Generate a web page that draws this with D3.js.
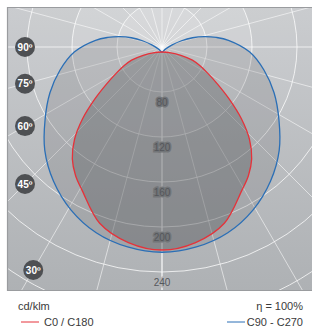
<!DOCTYPE html>
<html>
<head>
<meta charset="utf-8">
<script src="https://cdn.jsdelivr.net/npm/d3@7/dist/d3.min.js"></script>
<style>
  body { margin: 0; background: #fff; }
  svg { display: block; font-family: "Liberation Sans", Arial, sans-serif; }
</style>
</head>
<body>
<svg id="chart" width="312" height="329"></svg>
<script>
// gamma in degrees, 0 = straight down, values in cd/klm
const gammaRed = [0, 10, 20, 30, 35, 40, 45, 50, 55, 60, 65, 70, 75, 80, 85, 90];
const c0c180 = [176, 172, 162, 142, 134, 124, 110, 92, 73, 57, 45, 36, 28, 17, 8, 0];
const gammaBlue = [0, 10, 20, 30, 40, 50, 60, 70, 80, 90, 100, 105, 110, 115, 120, 125, 130, 135];
const c90c270 = [178, 176, 171, 162, 150, 136, 120, 106, 92, 78, 60, 50, 40, 30, 20, 11, 4, 0];
const ringValues = [40, 80, 120, 160, 200, 240];
const ringLabels = [80, 120, 160, 200, 240];
const angleLabels = [90, 75, 60, 45, 30];

const svg = d3.select('#chart');
const plot = { left: 7, top: 7, right: 312, bottom: 291 };
const cx = 162, gridCy = 47, curveCy = 52;

const rScale = d3.scaleLinear().domain([0, 200]).range([0, 225]);
const rad = d => d * Math.PI / 180;

const defs = svg.append('defs');
defs.append('clipPath').attr('id', 'plotClip')
    .append('rect')
    .attr('x', plot.left).attr('y', plot.top)
    .attr('width', plot.right - plot.left).attr('height', plot.bottom - plot.top);

let grad = defs.append('linearGradient').attr('id', 'bg')
    .attr('x1', 0).attr('y1', 0).attr('x2', 0).attr('y2', 1);
grad.append('stop').attr('offset', '0%').attr('stop-color', '#cacccf');
grad.append('stop').attr('offset', '100%').attr('stop-color', '#aeb1b4');

const g = svg.append('g').attr('clip-path', 'url(#plotClip)');

g.append('rect')
    .attr('x', plot.left).attr('y', plot.top)
    .attr('width', plot.right - plot.left).attr('height', plot.bottom - plot.top)
    .attr('fill', 'url(#bg)');

// lighter discs around the centre
const grid = g.append('g').attr('transform', 'translate(' + cx + ',' + gridCy + ')');
grid.selectAll('.disc')
    .data([120, 80, 40])
    .enter().append('circle')
    .attr('class', 'disc')
    .attr('r', d => rScale(d))
    .attr('fill', '#fff')
    .attr('fill-opacity', d => d === 120 ? 0.04 : 0.13);

// curves, polar around the light source
const curves = g.append('g').attr('transform', 'translate(' + cx + ',' + curveCy + ')');

function outline(gammas, values) {
    let pts = [];
    gammas.forEach((gm, i) => pts.push({ a: Math.PI - rad(gm), v: values[i] }));
    for (let i = gammas.length - 2; i > 0; i--) {
        pts.push({ a: Math.PI + rad(gammas[i]), v: values[i] });
    }
    return pts;
}

const radial = d3.lineRadial()
    .angle(d => d.a)
    .radius(d => rScale(d.v))
    .curve(d3.curveCatmullRomClosed.alpha(0.5));

const bluePts = outline(gammaBlue, c90c270);
const redPts = outline(gammaRed, c0c180);

curves.append('path').attr('d', radial(bluePts))
    .attr('fill', '#62656a').attr('fill-opacity', 0.2);
curves.append('path').attr('d', radial(redPts))
    .attr('fill', '#505256').attr('fill-opacity', 0.33);

// grid rings and spokes
grid.selectAll('.ring')
    .data(ringValues)
    .enter().append('circle')
    .attr('class', 'ring')
    .attr('r', d => rScale(d))
    .attr('fill', 'none')
    .attr('stroke', '#fff')
    .attr('stroke-opacity', 0.75)
    .attr('stroke-width', 1);

grid.selectAll('.spoke')
    .data(d3.range(0, 360, 15))
    .enter().append('line')
    .attr('class', 'spoke')
    .attr('x1', 0).attr('y1', 0)
    .attr('x2', d => 400 * Math.sin(rad(d)))
    .attr('y2', d => 400 * Math.cos(rad(d)))
    .attr('stroke', '#fff')
    .attr('stroke-opacity', d => d === 0 ? 0.95 : 0.7)
    .attr('stroke-width', d => d === 0 || d === 90 || d === 270 ? 1.2 : 0.8);

curves.append('path').attr('d', radial(bluePts))
    .attr('fill', 'none').attr('stroke', '#2b6fb6').attr('stroke-width', 1.3);
curves.append('path').attr('d', radial(redPts))
    .attr('fill', 'none').attr('stroke', '#e5323a').attr('stroke-width', 1.3);

// value labels on the vertical axis
grid.selectAll('.vlabel')
    .data(ringLabels)
    .enter().append('text')
    .attr('class', 'vlabel')
    .attr('x', 0)
    .attr('y', d => rScale(d) - 35)
    .attr('dy', '0.35em')
    .attr('text-anchor', 'middle')
    .style('font-size', '10px')
    .style('paint-order', 'stroke')
    .attr('stroke', d => d < 240 ? '#8d8f92' : '#b0b2b5')
    .attr('stroke-width', 3)
    .attr('fill', '#55585c')
    .text(d => d);

// angle badges along the left
const badges = svg.append('g').attr('transform', 'translate(' + cx + ',' + gridCy + ')');
const badgeX = 25 - cx, badgeYMax = 270 - gridCy;
const badge = badges.selectAll('.badge')
    .data(angleLabels)
    .enter().append('g')
    .attr('class', 'badge')
    .attr('transform', d => {
        let s = Math.sin(rad(d)), c = Math.cos(rad(d));
        let t = -badgeX / s;
        if (t * c > badgeYMax) t = badgeYMax / c;
        return 'translate(' + (-t * s) + ',' + (t * c) + ')';
    });
badge.append('circle').attr('r', 10).attr('fill', '#4e5053');
badge.append('text')
    .attr('text-anchor', 'middle')
    .attr('dy', '0.36em')
    .attr('fill', '#fff')
    .style('font-size', '10px')
    .style('font-weight', 'bold')
    .text(d => d + 'º');

// frame
svg.append('path')
    .attr('d', 'M' + plot.right + ',' + (plot.top + 0.5) + 'H' + (plot.left + 0.5) +
               'V' + (plot.bottom - 0.5) + 'H' + plot.right)
    .attr('fill', 'none').attr('stroke', '#9a9c9f').attr('stroke-width', 1.2);

// legend
const legend = svg.append('g').style('font-size', '11px').attr('fill', '#3a3a3a');
legend.append('text').attr('x', 18).attr('y', 310).text('cd/klm');
legend.append('text').attr('x', 303).attr('y', 310).attr('text-anchor', 'end').text('η = 100%');
legend.append('line').attr('x1', 21).attr('x2', 39).attr('y1', 322).attr('y2', 322)
    .attr('stroke', '#e5323a').attr('stroke-width', 1);
legend.append('text').attr('x', 44).attr('y', 326).text('C0 / C180');
legend.append('line').attr('x1', 227).attr('x2', 245).attr('y1', 322).attr('y2', 322)
    .attr('stroke', '#2b6fb6').attr('stroke-width', 1);
legend.append('text').attr('x', 303).attr('y', 326).attr('text-anchor', 'end').text('C90 - C270');
</script>
</body>
</html>
